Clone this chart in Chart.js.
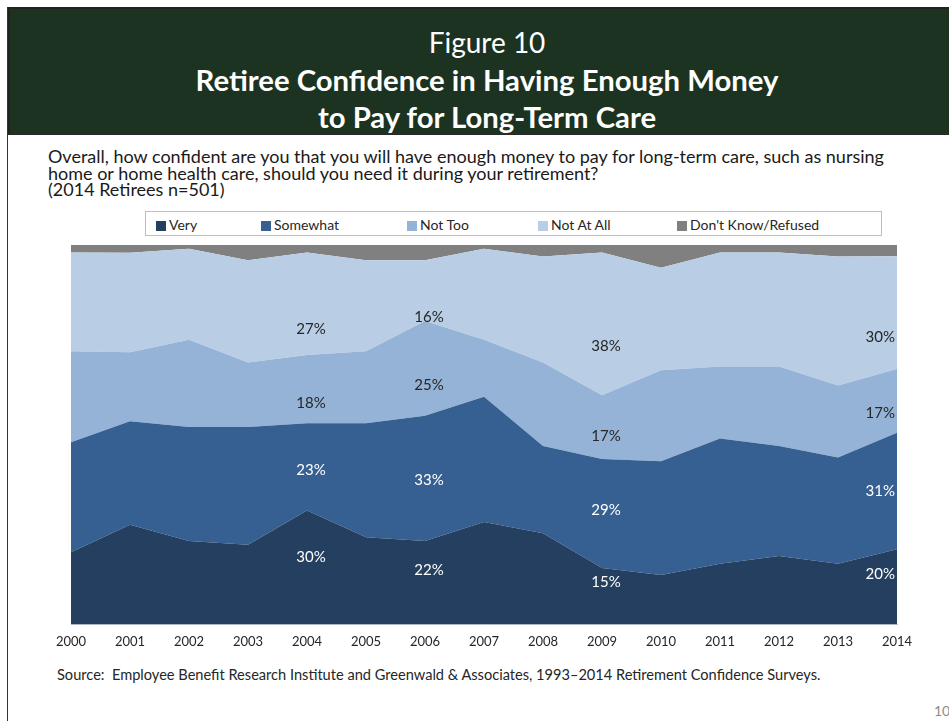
<!DOCTYPE html>
<html>
<head>
<meta charset="utf-8">
<script src="https://cdn.jsdelivr.net/npm/chart.js@4"></script>
<style>
  html, body { margin:0; padding:0; background:#fff; }
  body { width:949px; height:721px; position:relative; overflow:hidden; font-family: Lato, "Open Sans", sans-serif; color:#1f1f1f; }
  #frameL { position:absolute; left:7px; top:7px; width:1px; height:714px; background:#333; }
  #header { position:absolute; left:8px; top:7px; width:941px; height:128px; background:#1b3320; border-top:2px solid #222; border-left:2px solid #222; border-bottom:2px solid #2a2a2a; box-sizing:border-box; }
  .ht { position:absolute; left:0; width:954px; text-align:center; color:#fff; white-space:nowrap; line-height:1; }
  #fig { top:19px; font-size:28px; font-weight:400; }
  #t1 { top:56px; font-size:29.3px; font-weight:700; }
  #t2 { top:93px; font-size:29.3px; font-weight:700; }
  #q { position:absolute; left:48px; top:148px; font-size:18px; line-height:16.5px; color:#1a1a1a; white-space:nowrap; }
  #legend { position:absolute; left:145px; top:211px; width:737px; height:25px; border:1px solid #bdbdbd; box-sizing:border-box; font-size:14px; color:#262626; }
  .li { position:absolute; top:4px; white-space:nowrap; }
  .sw { display:inline-block; width:10px; height:10px; margin-right:3px; vertical-align:-1px; }
  #chartWrap { position:absolute; left:30px; top:240px; width:900px; height:420px; }
  #src { position:absolute; left:57px; top:666px; font-size:14.6px; color:#262626; white-space:nowrap; }
  #pg { position:absolute; left:934px; top:702px; font-size:14px; color:#8c8c8c; }
</style>
</head>
<body>
<div id="frameL"></div>
<div id="header">
  <div class="ht" id="fig">Figure 10</div>
  <div class="ht" id="t1">Retiree Confidence in Having Enough Money</div>
  <div class="ht" id="t2">to Pay for Long-Term Care</div>
</div>
<div id="q">Overall, how confident are you that you will have enough money to pay for long-term care, such as nursing<br>home or home health care, should you need it during your retirement?<br>(2014 Retirees n=501)</div>
<div id="legend"></div>
<div id="chartWrap"><canvas id="c" width="900" height="420"></canvas></div>
<div id="src">Source:&nbsp; Employee Benefit Research Institute and Greenwald &amp; Associates, 1993–2014 Retirement Confidence Surveys.</div>
<div id="pg">10</div>
<script>
// ---- Data ----
const years = ['2000','2001','2002','2003','2004','2005','2006','2007','2008','2009','2010','2011','2012','2013','2014'];
const seriesNames = ['Very','Somewhat','Not Too','Not At All',"Don't Know/Refused"];
const very      = [19, 26, 22, 21, 30, 23, 22, 27, 24, 15, 13, 16, 18, 16, 20];
const somewhat  = [29, 27, 30, 31, 23, 30, 33, 33, 23, 29, 30, 33, 29, 28, 31];
const notToo    = [24, 18, 23, 17, 18, 19, 25, 15, 22, 17, 24, 19, 21, 19, 17];
const notAtAll  = [26, 26, 24, 27, 27, 24, 16, 24, 28, 38, 27, 30, 30, 34, 30];
const dontKnow  = [ 2,  2,  1,  4,  2,  4,  4,  1,  3,  2,  6,  2,  2,  3,  3];
const labeledYears = ['2004','2006','2009','2014'];

const colors = ['#243f60','#366092','#95b3d7','#b9cde5','#808080'];
const labelColors = ['#ffffff','#ffffff','#262626','#262626'];

const raw = [very, somewhat, notToo, notAtAll, dontKnow];
const totals = years.map((_, i) => raw.reduce((s, a) => s + a[i], 0));
const norm = raw.map(a => a.map((v, i) => v / totals[i] * 100));

// legend
const lg = document.getElementById('legend');
const lx = [10, 115, 261, 392, 531];
seriesNames.forEach((n, k) => {
  const d = document.createElement('div');
  d.className = 'li'; d.style.left = lx[k] + 'px';
  d.innerHTML = '<span class="sw" style="background:' + colors[k] + '"></span>' + n;
  lg.appendChild(d);
});

// Label placement: band middle mapped into an inset label region (as the original renderer does)
const labelPlugin = {
  id: 'bandLabels',
  afterDatasetsDraw(chart) {
    const ctx = chart.ctx;
    const area = chart.chartArea;
    const ys = chart.scales.y;
    ctx.save();
    ctx.font = '15px Lato, "Open Sans", sans-serif';
    ctx.textAlign = 'center';
    ctx.textBaseline = 'middle';
    labeledYears.forEach(yr => {
      const i = years.indexOf(yr);
      let cum = 0;
      for (let k = 0; k < 4; k++) {
        const m = chart.getDatasetMeta(k);
        const mid = cum + norm[k][i] / 2;
        cum += norm[k][i];
        const txt = raw[k][i] + '%';
        const w = ctx.measureText(txt).width;
        let x = m.data[i].x + 4;
        x = Math.min(x, area.right - w / 2 - 2);
        const y = ys.getPixelForValue(4.75 + 0.865 * mid);
        ctx.fillStyle = labelColors[k];
        ctx.fillText(txt, x, y);
      }
    });
    ctx.restore();
  }
};

new Chart(document.getElementById('c'), {
  type: 'line',
  data: {
    labels: years,
    datasets: norm.map((d, k) => ({
      label: seriesNames[k],
      data: d,
      backgroundColor: colors[k],
      borderColor: colors[k],
      borderWidth: 0,
      pointRadius: 0,
      tension: 0,
      fill: k === 0 ? 'origin' : '-1'
    }))
  },
  options: {
    responsive: false,
    animation: false,
    layout: { padding: { left: 41, right: 33, top: 5, bottom: 0 } },
    plugins: { legend: { display: false }, tooltip: { enabled: false } },
    scales: {
      x: {
        offset: false,
        grid: { display: false, drawTicks: false },
        border: { display: true, color: '#c0c8d4' },
        ticks: { color: '#262626', font: { size: 13, family: 'Lato, "Open Sans", sans-serif' }, padding: 10, maxRotation: 0, autoSkip: false }
      },
      y: { stacked: true, min: 0, max: 100, display: false }
    }
  },
  plugins: [labelPlugin]
});
</script>
</body>
</html>
